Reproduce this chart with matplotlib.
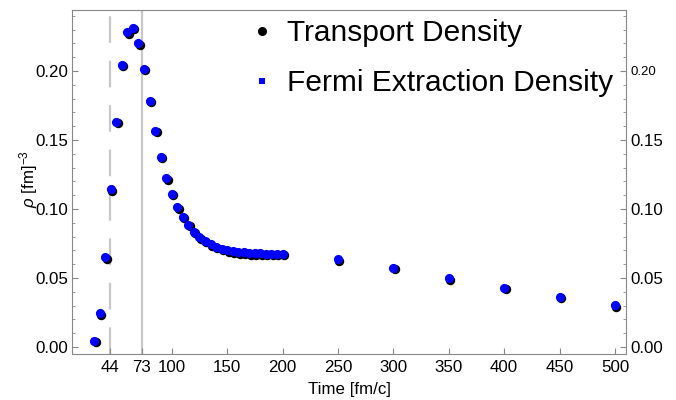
import matplotlib.pyplot as plt
import matplotlib.transforms as mtransforms
from matplotlib.lines import Line2D
from matplotlib.ticker import MultipleLocator

plt.rcParams['font.family'] = ['Liberation Sans', 'DejaVu Sans']
plt.rcParams['mathtext.fontset'] = 'custom'
plt.rcParams['mathtext.it'] = 'Liberation Sans:italic'
plt.rcParams['mathtext.rm'] = 'Liberation Sans'

# time steps [fm/c]
time = [30, 35, 40, 45, 50, 55, 60, 65, 70, 75, 80, 85, 90, 95, 100,
        105, 110, 115, 120, 125, 130, 135, 140, 145, 150, 155, 160, 165,
        170, 175, 180, 185, 190, 195, 200, 250, 300, 350, 400, 450, 500]

# density from the transport code [fm^-3]
transport_density = [0.0046, 0.0244, 0.0650, 0.1143, 0.1630, 0.2043, 0.2280,
                     0.2314, 0.2200, 0.2017, 0.1785, 0.1567, 0.1378, 0.1221,
                     0.1108, 0.1013, 0.0942, 0.0885, 0.0836, 0.0795, 0.0768,
                     0.0744, 0.0726, 0.0711, 0.0699, 0.0692, 0.0687, 0.0683,
                     0.0680, 0.0678, 0.0676, 0.0675, 0.0674, 0.0674, 0.0673,
                     0.0635, 0.0572, 0.0498, 0.0428, 0.0362, 0.0302]

# density from the Fermi-distribution fit [fm^-3]
fermi_density = [0.0046, 0.0244, 0.0650, 0.1143, 0.1630, 0.2043, 0.2280,
                 0.2314, 0.2200, 0.2017, 0.1785, 0.1567, 0.1378, 0.1221,
                 0.1108, 0.1013, 0.0942, 0.0885, 0.0836, 0.0795, 0.0770,
                 0.0746, 0.0728, 0.0713, 0.0701, 0.0694, 0.0689, 0.0685,
                 0.0682, 0.0680, 0.0678, 0.0677, 0.0676, 0.0676, 0.0675,
                 0.0635, 0.0572, 0.0498, 0.0428, 0.0362, 0.0302]

x_ticks = [44, 73, 100, 150, 200, 250, 300, 350, 400, 450, 500]
y_ticks = [0.00, 0.05, 0.10, 0.15, 0.20]

fig = plt.figure(figsize=(6.76, 4.0), dpi=100)
ax = fig.add_axes([72 / 676, 46 / 400, 554 / 676, 344 / 400])

# reference times
ax.axvline(44, color='#c8c8c8', lw=1.6, linestyle=(0, (12, 8)), zorder=1)
ax.axvline(73, color='#c8c8c8', lw=1.6, zorder=1)

# black points sit a pixel down-right so they show as an outline
shadow = ax.transData + mtransforms.ScaledTranslation(1.4 / 100, -1.4 / 100,
                                                      fig.dpi_scale_trans)
ax.plot(time, transport_density, 'o', color='black', ms=6.8, mew=0,
        transform=shadow, zorder=3)
ax.plot(time, fermi_density, 'o', color='#0000ff', ms=6.6, mew=0, zorder=4)

ax.set_xlim(10, 510)
ax.set_ylim(-0.0051, 0.2442)
ax.set_xticks(x_ticks)
ax.set_yticks(y_ticks)
ax.yaxis.set_minor_locator(MultipleLocator(0.01))
ax.set_yticklabels(['%.2f' % v for v in y_ticks])

for side in ax.spines.values():
    side.set_color('#888888')
ax.tick_params(axis='both', which='both', direction='in', colors='#888888',
               labelcolor='black', labelsize=12.2)
ax.tick_params(axis='y', which='both', right=True, labelright=True)
ax.tick_params(axis='y', which='major', length=4, pad=3)
ax.tick_params(axis='y', which='minor', length=2.5)
ax.tick_params(axis='x', which='major', length=4, pad=4)

# legend text covers the top right label, which is drawn smaller
ax.yaxis.get_major_ticks()[-1].label2.set_fontsize(9.5)

ax.set_xlabel('Time [fm/c]', fontsize=12.2, labelpad=5.5)
ax.set_ylabel(r'$\rho$ [fm]$^{-3}$', fontsize=12.2)
ax.yaxis.set_label_coords(-0.058, 0.51)

handles = [
    Line2D([], [], marker='o', ls='', color='black', ms=6.5, mew=0),
    Line2D([], [], marker='s', ls='', color='#0000ff', ms=4.5, mew=0),
]
fig.legend(handles, ['Transport Density', 'Fermi Extraction Density'],
           loc='upper left', bbox_to_anchor=(250 / 676, 1 - 19 / 400),
           frameon=False, fontsize=21.5, handlelength=0.8, handletextpad=0.45,
           labelspacing=0.75, borderpad=0, borderaxespad=0)

fig.savefig('out.png', dpi=100)
